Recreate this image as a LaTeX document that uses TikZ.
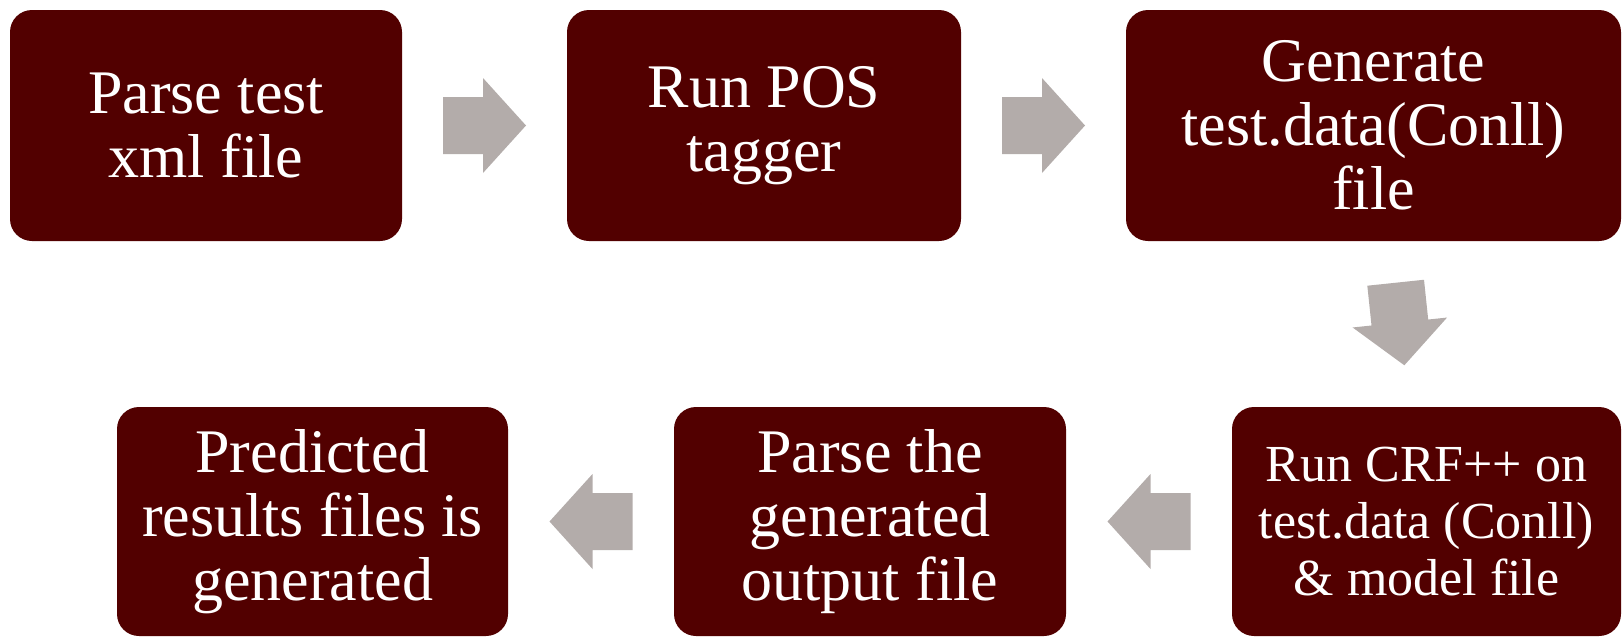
\documentclass[tikz,border=0pt]{standalone}
\usepackage{fontspec}
\setmainfont{Liberation Serif}
\usepackage{xcolor}
\usepackage{tikz}
\usetikzlibrary{calc}

\definecolor{boxred}{RGB}{82,0,0}
\definecolor{arrowgrey}{RGB}{179,172,170}

\begin{document}
\begin{tikzpicture}[
		x=0.5pt, y=-0.5pt,
		stepbox/.style={
			rectangle,
			rounded corners=11pt,
			fill=boxred,
			text=white,
			align=center,
			inner sep=0pt,
			minimum height=115.5pt,
			font=\fontsize{31}{32}\selectfont
			},
		flowarrow/.pic={
			\fill[arrowgrey] (-41.5,-28.5) -- (-1.5,-28.5) -- (-1.5,-47.5) -- (41.5,0) -- (-1.5,47.5) -- (-1.5,28.5) -- (-41.5,28.5) -- cycle;
			}
		]

		\useasboundingbox (0,0) rectangle (1623,638);

		% top row
		\node[stepbox, minimum width=196pt] (s1) at (206,125.5) {Parse test\\xml file};
		\node[stepbox, minimum width=197pt] (s2) at (764,125.5) {Run POS\\tagger};
		\node[stepbox, minimum width=247.5pt] (s3) at (1373.5,125.5) {Generate\\test.data(Conll)\\file};

		% bottom row
		\node[stepbox, minimum width=195.5pt, minimum height=114.5pt] (s4) at (312.5,521.5) {Predicted\\results files is\\generated};
		\node[stepbox, minimum width=196pt, minimum height=114.5pt] (s5) at (870,521.5) {Parse the\\generated\\output file};
		\node[stepbox, minimum width=194.5pt, minimum height=114.5pt, font=\fontsize{26}{28.5}\selectfont] (s6) at (1426.5,521.5) {Run CRF++ on\\test.data (Conll)\\\& model file};

		% arrows
		\pic at ($(s1.east)!0.5!(s2.west)$) {flowarrow};
		\pic at ($(s2.east)!0.5!(s3.west)$) {flowarrow};
		\pic[rotate=-84] at ($(s3.south)!0.5!(s6.north)$) {flowarrow};
		\pic[rotate=180] at ($(s6.west)!0.5!(s5.east)$) {flowarrow};
		\pic[rotate=180] at ($(s5.west)!0.5!(s4.east)$) {flowarrow};

\end{tikzpicture}
\end{document}
